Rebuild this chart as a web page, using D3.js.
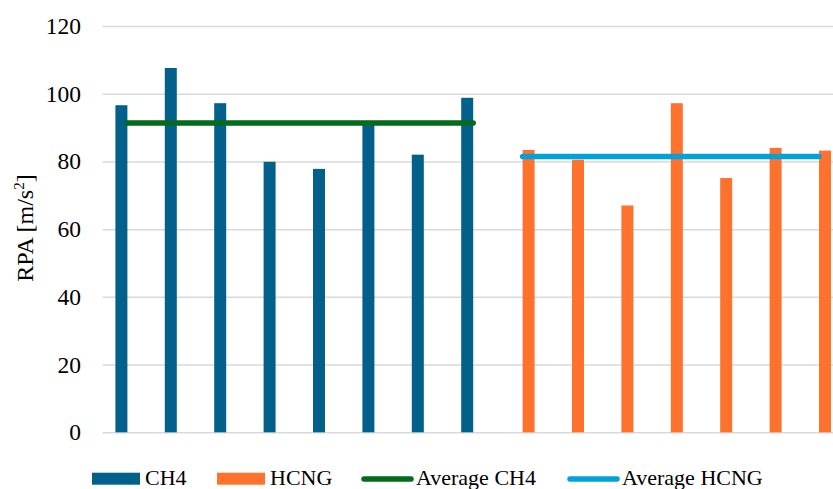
<!DOCTYPE html>
<html>
<head>
<meta charset="utf-8">
<script src="https://cdn.jsdelivr.net/npm/d3@7"></script>
<style>
  html, body { margin: 0; padding: 0; background: #fff; }
  svg { display: block; }
  text { font-family: "Liberation Serif", "Times New Roman", serif; fill: #000; }
</style>
</head>
<body>
<svg id="chart" width="833" height="489"></svg>
<script>
// Test runs (categories along the x axis); CH4 in runs 1-8, HCNG in runs 9-15
const runs = ["1", "2", "3", "4", "5", "6", "7", "8", "9", "10", "11", "12", "13", "14", "15"];
const ch4Runs = ["1", "2", "3", "4", "5", "6", "7", "8"];
const ch4Values = [96.6, 107.6, 97.2, 79.9, 77.8, 91.0, 82.0, 98.8];
const hcngRuns = ["9", "10", "11", "12", "13", "14", "15"];
const hcngValues = [83.4, 80.5, 67.0, 97.2, 75.1, 84.0, 83.2];
const seriesNames = ["CH4", "HCNG"];
const yTicks = [0, 20, 40, 60, 80, 100, 120];

const colors = {
  CH4: "#02608A",
  HCNG: "#FF722D",
  avgCH4: "#036A1E",
  avgHCNG: "#00A2D9"
};
const serif = '"Liberation Serif", "Times New Roman", serif';

const svg = d3.select("#chart");
const W = 833, H = 489;
const plot = { left: 102.7, top: 26, bottom: 432.3, step: 49.4 };

const x = d3.scaleBand()
  .domain(runs)
  .range([plot.left, plot.left + runs.length * plot.step])
  .paddingInner(0).paddingOuter(0);

// two bar slots per category, centred with Excel-like gap
const xs = d3.scaleBand()
  .domain(seriesNames)
  .range([0, x.bandwidth()])
  .paddingInner(0).paddingOuter(1.058);

const y = d3.scaleLinear().domain([0, 120]).range([plot.bottom, plot.top]);

// gridlines
const grid = svg.append("g")
  .attr("transform", `translate(${plot.left},0)`)
  .call(d3.axisLeft(y).tickValues(yTicks).tickSize(-(W - plot.left)).tickFormat(""));
grid.select(".domain").remove();
grid.selectAll("line").attr("stroke", "#d9d9d9").attr("stroke-width", 1.5);

// y tick labels
const yAxis = svg.append("g")
  .attr("transform", `translate(${plot.left},0)`)
  .call(d3.axisLeft(y).tickValues(yTicks).tickSize(0).tickPadding(21.7))
  .attr("font-family", serif)
  .attr("font-size", 23.5);
yAxis.select(".domain").remove();
yAxis.selectAll("text")
  .attr("font-family", serif)
  .attr("fill", "#000");

// y axis title
svg.append("text")
  .attr("transform", `translate(33,228) rotate(-90)`)
  .attr("text-anchor", "middle")
  .attr("font-family", serif)
  .attr("font-size", 24)
  .html('RPA [m/s<tspan dy="-9" font-size="15">2</tspan><tspan dy="9">]</tspan>');

// bars
const barData = [
  ...ch4Runs.map((r, i) => ({ run: r, series: "CH4", value: ch4Values[i] })),
  ...hcngRuns.map((r, i) => ({ run: r, series: "HCNG", value: hcngValues[i] }))
];
svg.append("g").selectAll("rect")
  .data(barData)
  .join("rect")
  .attr("x", d => x(d.run) + xs(d.series))
  .attr("width", xs.bandwidth())
  .attr("y", d => y(d.value))
  .attr("height", d => y(0) - y(d.value))
  .attr("fill", d => colors[d.series]);

// average lines across each fuel's runs
const averages = [
  { runs: ch4Runs, value: d3.mean(ch4Values), color: colors.avgCH4 },
  { runs: hcngRuns, value: d3.mean(hcngValues), color: colors.avgHCNG }
];
const line = d3.line()
  .x(d => x(d.run) + x.bandwidth() / 2)
  .y(d => y(d.value));
svg.append("g").selectAll("path")
  .data(averages)
  .join("path")
  .attr("d", a => line(a.runs.map(r => ({ run: r, value: a.value }))))
  .attr("fill", "none")
  .attr("stroke", a => a.color)
  .attr("stroke-width", 5.5)
  .attr("stroke-linecap", "round");

// legend
const legend = svg.append("g").attr("font-family", serif).attr("font-size", 22);
const legendItems = [
  { label: "CH4", type: "rect", color: colors.CH4, x0: 92, x1: 140, tx: 145 },
  { label: "HCNG", type: "rect", color: colors.HCNG, x0: 217, x1: 265, tx: 270 },
  { label: "Average CH4", type: "line", color: colors.avgCH4, x0: 364, x1: 411, tx: 416 },
  { label: "Average HCNG", type: "line", color: colors.avgHCNG, x0: 570, x1: 617, tx: 622 }
];
legendItems.forEach(it => {
  if (it.type === "rect") {
    legend.append("rect")
      .attr("x", it.x0).attr("y", 472.7)
      .attr("width", it.x1 - it.x0).attr("height", 12)
      .attr("fill", it.color);
  } else {
    legend.append("line")
      .attr("x1", it.x0).attr("x2", it.x1)
      .attr("y1", 479).attr("y2", 479)
      .attr("stroke", it.color).attr("stroke-width", 5.5)
      .attr("stroke-linecap", "round");
  }
  legend.append("text")
    .attr("x", it.tx).attr("y", 485)
    .text(it.label);
});
</script>
</body>
</html>
